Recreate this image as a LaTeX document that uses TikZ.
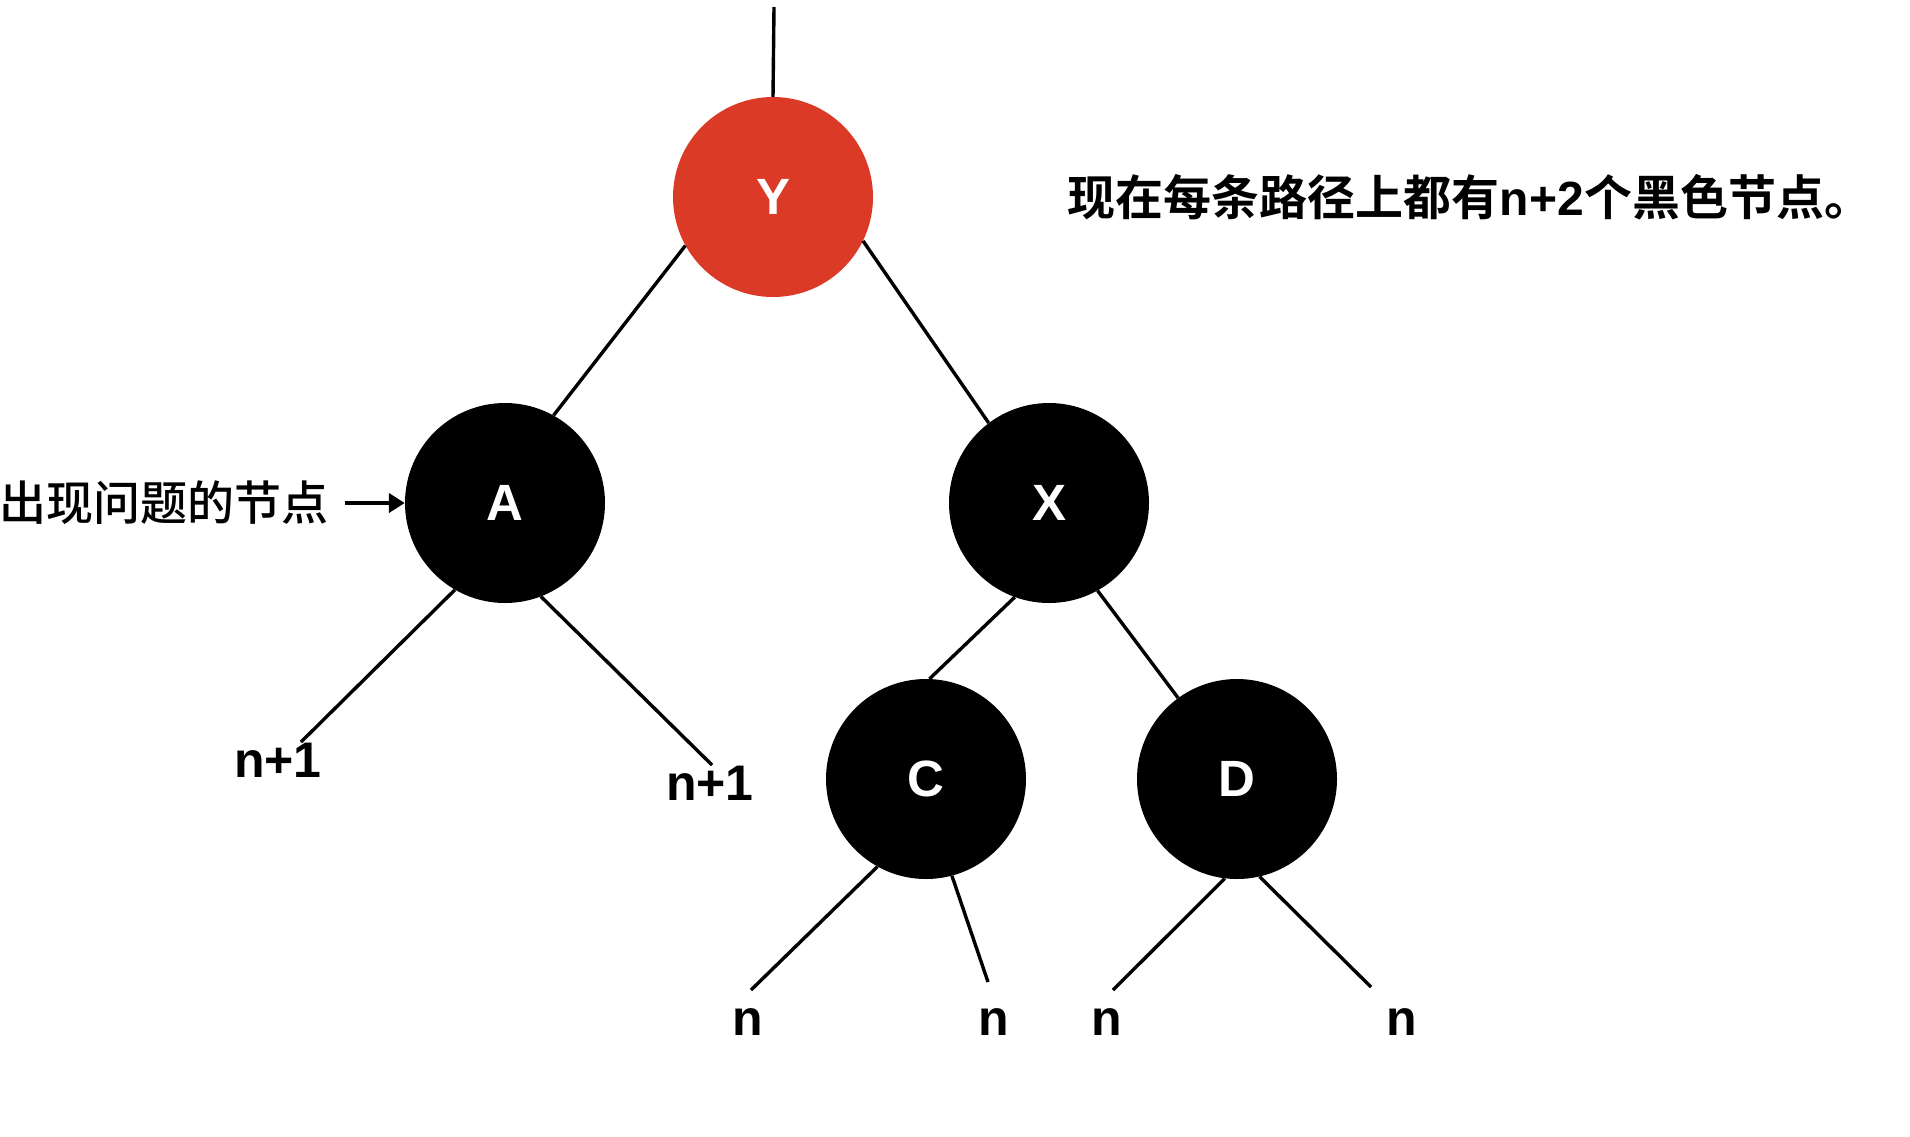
\documentclass[tikz,border=0pt]{standalone}
\usepackage{fontspec}
\setmainfont{Liberation Sans}
\newfontfamily\cjk{Noto Sans CJK SC}[BoldFont={Noto Sans CJK SC Bold}]
\newfontfamily\cjkmid{Noto Sans CJK SC Medium}
\usepackage{xcolor}
\usetikzlibrary{positioning, arrows.meta}
\definecolor{rbred}{RGB}{219,59,38}

\begin{document}
\begin{tikzpicture}[
    x = 1pt, y = -1pt, > = {Triangle[length = 16pt, width = 19pt]},
    rbnode/.style = {
      circle, draw = none, inner sep = 0pt, minimum size = 200pt,
      text = white, font = \fontsize{51}{51}\selectfont\bfseries
    },
    rednode/.style = {rbnode, fill = rbred},
    blacknode/.style = {rbnode, fill = black},
    edge/.style = {line width = 3.4pt},
    leaf/.style = {
      inner sep = 0pt, font = \fontsize{50}{50}\selectfont\bfseries
    },
    note/.style = {inner sep = 0pt},
    ]
\useasboundingbox (0,0) rectangle (1910,1136);

% tree nodes
\node  [rednode]    (Y)  at (773,197)   {Y};
\node  [blacknode]  (A)  at (505,503)   {A};
\node  [blacknode]  (X)  at (1049,503)  {X};
\node  [blacknode]  (C)  at (926,779)   {C};
\node  [blacknode]  (D)  at (1237,779)  {D};

% leaf labels
\node  [leaf]  (A_l)  at (278,760)   {n+1};
\node  [leaf]  (A_r)  at (710,783)   {n+1};
\node  [leaf]  (C_l)  at (748,1022)  {n};
\node  [leaf]  (C_r)  at (994,1022)  {n};
\node  [leaf]  (D_l)  at (1107,1022) {n};
\node  [leaf]  (D_r)  at (1402,1022) {n};

% free ends of the lines
\coordinate  (top)   at (774,7);
\coordinate  (a_l)   at (301,742);
\coordinate  (a_r)   at (712,765);
\coordinate  (c_l)   at (751,990);
\coordinate  (c_r)   at (988,982);
\coordinate  (d_l)   at (1113,990);
\coordinate  (d_r)   at (1371,987);

% notes
\node  [note]  (problem)  [left = 76pt of A]
  {\cjkmid\fontsize{47}{47}\selectfont 出现问题的节点};
\node  [note]  (count)  at (1470,197)
  {\cjk\bfseries\fontsize{48}{48}\selectfont 现在每条路径上都有{\rmfamily n+2}个黑色节点。};

\draw  [edge]  (top)  to  (Y.north);
\draw  [edge]  (Y.-151)  to  (A.61);
\draw  [edge]  (Y.-26)  to  (X.127);
\draw  [edge]  (X.-110)  to  (C.88);
\draw  [edge]  (X.-61)  to  (D.126);
\draw  [edge]  (A.-120)  to  (a_l);
\draw  [edge]  (A.-69)  to  (a_r);
\draw  [edge]  (C.-119)  to  (c_l);
\draw  [edge]  (C.-75)  to  (c_r);
\draw  [edge]  (D.-97)  to  (d_l);
\draw  [edge]  (D.-77)  to  (d_r);
\draw  [edge, line width = 4pt, ->, shorten <= 16pt]  (problem.east)  to  (A.west);

\end{tikzpicture}
\end{document}
